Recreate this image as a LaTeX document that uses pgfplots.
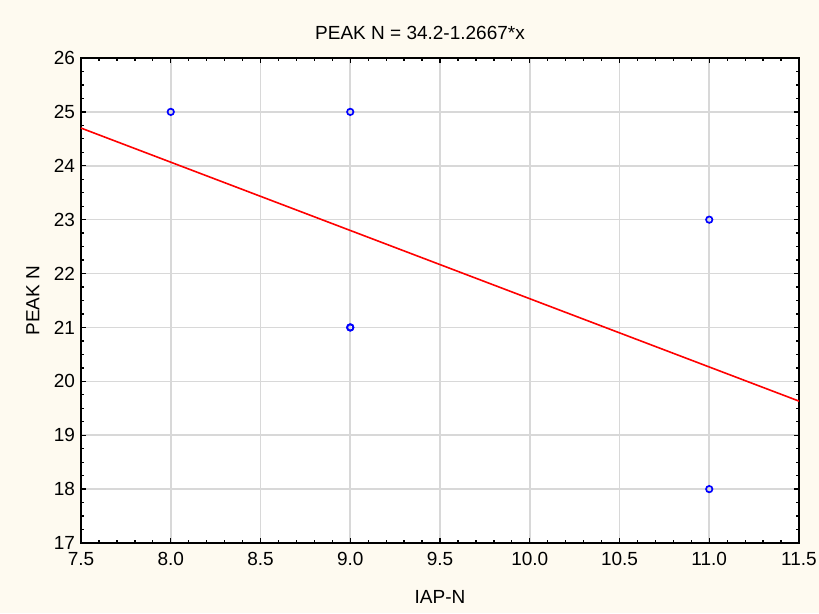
\documentclass[border=0pt]{standalone}
\usepackage{pgfplots}
\pgfplotsset{compat=1.18}
\usepackage{fontspec}
\setmainfont{Liberation Sans}
\definecolor{bgcream}{HTML}{FEFAF0}
\definecolor{gridgray}{HTML}{D8D8D8}
\begin{document}
\begin{tikzpicture}[x=1pt,y=1pt]
\fill[bgcream] (0,0) rectangle (819,613);
\useasboundingbox (0,0) rectangle (819,613);
\node[font=\fontsize{19}{22}\selectfont] at (420,580) {PEAK N = 34.2-1.2667*x};
\begin{axis}[
  at={(81pt,70pt)}, anchor=south west,
  scale only axis, width=718pt, height=485pt,
  xmin=7.5, xmax=11.5, ymin=17, ymax=26,
  xtick={7.5,8,...,11.5}, ytick={17,...,26},
  minor x tick num=4, minor y tick num=3,
  /pgf/number format/assume math mode=true,
  tick label style={font=\fontsize{19}{22}\selectfont},
  xticklabel style={yshift=-6pt, /pgf/number format/.cd, fixed, fixed zerofill, precision=1},
  yticklabel style={xshift=-2.5pt},
  xlabel={IAP-N}, ylabel={PEAK N},
  label style={font=\fontsize{19}{22}\selectfont},
  xlabel style={at={(axis description cs:0.5,-0.111)}, anchor=center},
  ylabel style={at={(axis description cs:-0.067,0.5)}, anchor=center},
  tick align=inside, ticks=both,
  major tick length=5pt, minor tick length=3pt,
  tick style={black, line width=1.3pt},
  axis line style={black, line width=2pt},
  grid=major, major grid style={gridgray, line width=1.6pt},
  axis background/.style={fill=white},
  clip=false,
]
\addplot[red, line width=1.6pt, no marks] coordinates {(7.5,24.7) (11.5,19.633)};
\addplot[only marks, mark=o, mark size=3.2pt, blue, line width=1.7pt] coordinates {
  (8,25) (9,25) (9,21) (9,21) (11,23) (11,18)
};
\end{axis}
\end{tikzpicture}
\end{document}
